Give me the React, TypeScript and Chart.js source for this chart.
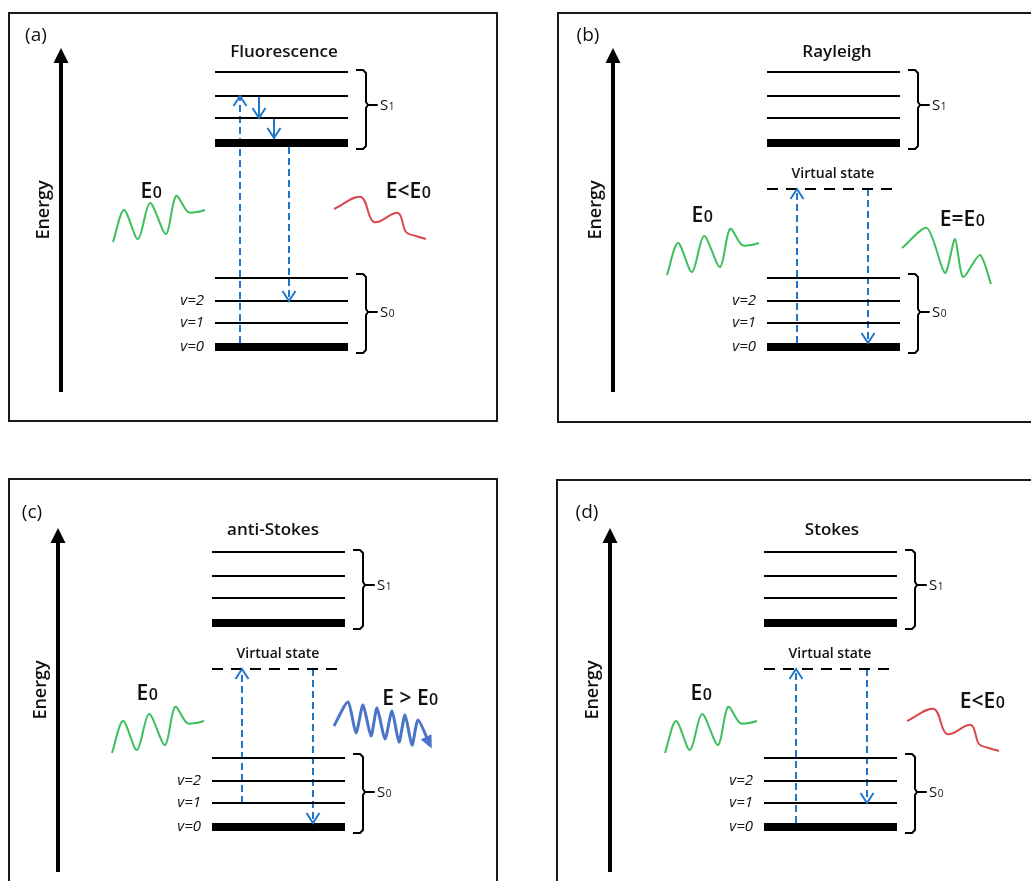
import React, { useEffect, useRef } from 'react';
import { Chart, registerables } from 'chart.js';

Chart.register(...registerables);

const FONT = "'Open Sans', 'Noto Sans', 'DejaVu Sans', sans-serif";

// ---------- data (energies in arbitrary units, 1 unit ≈ 1 px) ----------
const PANEL_LABELS = ['(a)', '(b)', '(c)', '(d)'];
const PANEL_TITLES = ['Fluorescence', 'Rayleigh', 'anti-Stokes', 'Stokes'];
const S0_LEVELS = [0, 24, 46, 69];
const S1_LEVELS = [204, 229, 251, 275];
const VIRTUAL_LEVEL = 158;
const V_LABELS = ['v=0', 'v=1', 'v=2'];
const SHOW_VIRTUAL = [false, true, true, true];
const LEVEL_LEN = 133;

// excitation (up) and emission (down) transitions, per panel
const EXC_X = [25, 30, 30, 32];
const EXC_FROM = [0, 0, 24, 0];
const EXC_TO = [251, 158, 158, 158];
const EMI_X = [74, 101, 101, 103];
const EMI_FROM = [204, 158, 158, 158];
const EMI_TO = [46, 0, 0, 24];
// vibrational relaxation in S1 (panel a)
const RELAX_X = [44, 59];
const RELAX_FROM = [251, 229];
const RELAX_TO = [229, 204];

// photon labels
const IN_LABEL = 'E0';
const OUT_LABELS = ['E<E0', 'E=E0', 'E > E0', 'E<E0'];

// hand-drawn incoming (green) wave shape
const GREEN_WAVE_DX = [0, 11, 25, 37, 53, 63, 75, 84, 92];
const GREEN_WAVE_DY = [0, 32, 3, 39, 8, 46, 30, 30, 32];
// red (lower energy) outgoing wave shape
const RED_WAVE_DX = [0, 27, 40, 64, 72, 82, 92];
const RED_WAVE_DY = [0, 12, -13, -4, -23, -27, -30];
// green outgoing wave (Rayleigh)
const GREEN_OUT_X = [135, 160, 178, 188, 196, 213, 224];
const GREEN_OUT_Y = [99, 119, 74, 108, 70, 92, 63];
// blue outgoing wave (anti-Stokes)
const BLUE_WAVE_X = [122, 136, 144, 151, 159, 165, 173, 180, 187, 193, 200, 206, 218];
const BLUE_WAVE_Y = [101, 125, 94, 122, 91, 119, 88, 116, 85, 112, 82, 107, 82];

// ---------- layout ----------
const CANVAS_RECTS = [
  [0, 0, 515, 440],
  [515, 0, 516, 440],
  [0, 440, 515, 441],
  [515, 440, 516, 441],
];
const ORIGIN_X = [215, 767, 212, 764];
const ORIGIN_Y = [347, 347, 827, 827];
const BOXES = [
  [-206, 282, 334, -74],
  [-209, 266, 334, -75],
  [-203, 285, 348, -63],
  [-207, 270, 347, -63],
];
const GREEN_ANCHOR_X = [-102, -100, -100, -99];
const GREEN_ANCHOR_Y = [105, 72, 74, 74];
const RED_ANCHOR = [[119, 138], null, null, [143, 106]];
const IN_POS = [[-64, 157], [-65, 133], [-65, 135], [-63, 135]];
const OUT_POS = [[193, 157], [195, 129], [198, 130], [218, 127]];
const TITLE_X = [69, 70, 61, 68];
const TITLE_Y = [295, 295, 297, 297];
const LABEL_POS = [[-179, 311], [-179, 311], [-180, 314], [-177, 314]];

const BLUE = '#1f77cc';
const GREEN = '#3cbf5c';
const RED = '#d9474c';
const BLUE_WAVE = '#4a74c9';
const BLACK = '#000000';

type Pt = { x: number; y: number };

function lineDs(data: Pt[], color: string, width: number, extra: any = {}) {
  return {
    data,
    borderColor: color,
    borderWidth: width,
    pointRadius: 0,
    fill: false,
    tension: 0,
    borderCapStyle: 'butt',
    borderJoinStyle: 'round',
    ...extra,
  };
}

function bracket(top: number, mid: number, bottom: number): Pt[] {
  return [
    { x: 141, y: top }, { x: 148, y: top }, { x: 151, y: top - 3 },
    { x: 151, y: mid + 3 }, { x: 153, y: mid }, { x: 162, y: mid },
    { x: 153, y: mid }, { x: 151, y: mid - 3 },
    { x: 151, y: bottom + 3 }, { x: 148, y: bottom }, { x: 141, y: bottom },
  ];
}

function buildDatasets(p: number) {
  const ds: any[] = [];
  // energy axis shaft
  ds.push(lineDs([{ x: -154, y: -45 }, { x: -154, y: 286 }], BLACK, 4));
  // levels
  S0_LEVELS.forEach((e, i) => ds.push(lineDs([{ x: 0, y: e }, { x: LEVEL_LEN, y: e }], BLACK, i === 0 ? 8 : 2)));
  S1_LEVELS.forEach((e, i) => ds.push(lineDs([{ x: 0, y: e }, { x: LEVEL_LEN, y: e }], BLACK, i === 0 ? 8 : 2)));
  if (SHOW_VIRTUAL[p]) {
    ds.push(lineDs([{ x: 0, y: VIRTUAL_LEVEL }, { x: LEVEL_LEN, y: VIRTUAL_LEVEL }], BLACK, 2, { borderDash: [11, 8] }));
  }
  // brackets
  ds.push(lineDs(bracket(277, 242, 198), BLACK, 2));
  ds.push(lineDs(bracket(73, 35, -6), BLACK, 2));
  // transitions
  ds.push(lineDs([{ x: EXC_X[p], y: EXC_FROM[p] + (EXC_FROM[p] === 0 ? 4 : 0) }, { x: EXC_X[p], y: EXC_TO[p] }], BLUE, 2, { borderDash: [7, 4] }));
  ds.push(lineDs([{ x: EMI_X[p], y: EMI_FROM[p] - (EMI_FROM[p] === S1_LEVELS[0] ? 4 : 0) }, { x: EMI_X[p], y: EMI_TO[p] === 0 ? 4 : EMI_TO[p] }], BLUE, 2, { borderDash: [7, 4] }));
  if (p === 0) {
    RELAX_X.forEach((x, i) => {
      const to = RELAX_TO[i] === S1_LEVELS[0] ? RELAX_TO[i] + 5 : RELAX_TO[i];
      ds.push(lineDs([{ x, y: RELAX_FROM[i] }, { x, y: to }], BLUE, 2));
    });
  }
  // incoming green wave
  ds.push(lineDs(GREEN_WAVE_DX.map((dx, i) => ({ x: GREEN_ANCHOR_X[p] + dx, y: GREEN_ANCHOR_Y[p] + GREEN_WAVE_DY[i] })), GREEN, 2, { tension: 0.3 }));
  // outgoing waves
  const ra = RED_ANCHOR[p];
  if (ra) {
    ds.push(lineDs(RED_WAVE_DX.map((dx, i) => ({ x: ra[0] + dx, y: ra[1] + RED_WAVE_DY[i] })), RED, 2, { tension: 0.35 }));
  }
  if (p === 1) {
    ds.push(lineDs(GREEN_OUT_X.map((x, i) => ({ x, y: GREEN_OUT_Y[i] })), GREEN, 2, { tension: 0.25 }));
  }
  if (p === 2) {
    ds.push(lineDs(BLUE_WAVE_X.map((x, i) => ({ x, y: BLUE_WAVE_Y[i] })), BLUE_WAVE, 3, { tension: 0.22 }));
  }
  return ds;
}

function drawSubLabel(ctx: CanvasRenderingContext2D, text: string, cx: number, cy: number, size: number, subSize: number, weight: string, align: 'center' | 'left') {
  const main = text.slice(0, -1);
  const sub = text.slice(-1);
  const mf = `${weight} ${size}px ${FONT}`;
  const sf = `${weight} ${subSize}px ${FONT}`;
  ctx.font = mf;
  const w1 = ctx.measureText(main).width;
  ctx.font = sf;
  const w2 = ctx.measureText(sub).width;
  const x0 = align === 'center' ? cx - (w1 + w2) / 2 : cx;
  const base = cy + size * 0.36;
  ctx.textAlign = 'left';
  ctx.textBaseline = 'alphabetic';
  ctx.font = mf;
  ctx.fillText(main, x0, base);
  ctx.font = sf;
  ctx.fillText(sub, x0 + w1 + 0.5, base);
}

function makePlugin(p: number) {
  return {
    id: 'decor' + p,
    beforeDatasetsDraw(chart: any) {
      const ctx = chart.ctx as CanvasRenderingContext2D;
      const X = (v: number) => chart.scales.x.getPixelForValue(v);
      const Y = (v: number) => chart.scales.y.getPixelForValue(v);
      const [l, r, t, b] = BOXES[p];
      ctx.save();
      ctx.strokeStyle = '#1a1a1a';
      ctx.lineWidth = 2;
      ctx.strokeRect(X(l), Y(t), X(r) - X(l), Y(b) - Y(t));
      ctx.restore();
    },
    afterDatasetsDraw(chart: any) {
      const ctx = chart.ctx as CanvasRenderingContext2D;
      const X = (v: number) => chart.scales.x.getPixelForValue(v);
      const Y = (v: number) => chart.scales.y.getPixelForValue(v);
      ctx.save();
      // energy arrow head
      ctx.fillStyle = BLACK;
      ctx.beginPath();
      ctx.moveTo(X(-154), Y(299));
      ctx.lineTo(X(-154) - 7.5, Y(284));
      ctx.lineTo(X(-154) + 7.5, Y(284));
      ctx.closePath();
      ctx.fill();

      // chevrons
      const chevron = (x: number, tipE: number, dir: number) => {
        const px = X(x);
        const py = Y(tipE);
        ctx.strokeStyle = BLUE;
        ctx.lineWidth = 2;
        ctx.lineJoin = 'miter';
        ctx.beginPath();
        ctx.moveTo(px - 6.5, py + dir * 10);
        ctx.lineTo(px, py);
        ctx.lineTo(px + 6.5, py + dir * 10);
        ctx.stroke();
      };
      chevron(EXC_X[p], EXC_TO[p], 1);
      chevron(EMI_X[p], EMI_TO[p] === 0 ? 4 : EMI_TO[p], -1);
      if (p === 0) {
        RELAX_X.forEach((x, i) => chevron(x, RELAX_TO[i] === S1_LEVELS[0] ? RELAX_TO[i] + 5 : RELAX_TO[i], -1));
      }

      // blue wave arrow head
      if (p === 2) {
        const n = BLUE_WAVE_X.length;
        const ex = X(BLUE_WAVE_X[n - 1]);
        const ey = Y(BLUE_WAVE_Y[n - 1]);
        const sx = X(BLUE_WAVE_X[n - 2]);
        const sy = Y(BLUE_WAVE_Y[n - 2]);
        const ang = Math.atan2(ey - sy, ex - sx);
        const tx = ex + Math.cos(ang) * 4;
        const ty = ey + Math.sin(ang) * 4;
        ctx.fillStyle = BLUE_WAVE;
        ctx.beginPath();
        ctx.moveTo(tx, ty);
        ctx.lineTo(tx - Math.cos(ang) * 13 - Math.sin(ang) * 6, ty - Math.sin(ang) * 13 + Math.cos(ang) * 6);
        ctx.lineTo(tx - Math.cos(ang) * 13 + Math.sin(ang) * 6, ty - Math.sin(ang) * 13 - Math.cos(ang) * 6);
        ctx.closePath();
        ctx.fill();
      }

      ctx.fillStyle = '#111';
      // panel label
      ctx.font = `19px ${FONT}`;
      ctx.textAlign = 'center';
      ctx.textBaseline = 'middle';
      ctx.fillText(PANEL_LABELS[p], X(LABEL_POS[p][0]), Y(LABEL_POS[p][1]));
      // title
      ctx.font = `600 17px ${FONT}`;
      ctx.fillText(PANEL_TITLES[p], X(TITLE_X[p]), Y(TITLE_Y[p]));
      // Energy
      ctx.save();
      ctx.translate(X(-171), Y(137));
      ctx.rotate(-Math.PI / 2);
      ctx.font = `600 18px ${FONT}`;
      ctx.fillText('Energy', 0, 0);
      ctx.restore();
      // virtual state
      if (SHOW_VIRTUAL[p]) {
        ctx.font = `600 14px ${FONT}`;
        ctx.textAlign = 'center';
        ctx.textBaseline = 'middle';
        ctx.fillText('Virtual state', X(66), Y(173));
      }
      // v labels
      ctx.font = `italic 15px ${FONT}`;
      ctx.textAlign = 'right';
      ctx.textBaseline = 'middle';
      V_LABELS.forEach((t, i) => ctx.fillText(t, X(-11), Y(S0_LEVELS[i])));
      // S labels
      drawSubLabel(ctx, 'S1', X(165), Y(242), 15, 10, 'normal', 'left');
      drawSubLabel(ctx, 'S0', X(165), Y(35), 15, 10, 'normal', 'left');
      // photon labels
      drawSubLabel(ctx, IN_LABEL, X(IN_POS[p][0]), Y(IN_POS[p][1]), 21, 16, '600', 'center');
      drawSubLabel(ctx, OUT_LABELS[p], X(OUT_POS[p][0]), Y(OUT_POS[p][1]), 21, 16, '600', 'center');
      ctx.restore();
    },
  };
}

function buildChart(canvas: HTMLCanvasElement, p: number) {
  const [cl, ct, cw, ch] = CANVAS_RECTS[p];
  const ox = ORIGIN_X[p];
  const oy = ORIGIN_Y[p];
  return new Chart(canvas, {
    type: 'line',
    data: { datasets: buildDatasets(p) },
    options: {
      animation: false,
      responsive: false,
      events: [],
      layout: { padding: 0 },
      plugins: { legend: { display: false }, tooltip: { enabled: false } },
      scales: {
        x: { type: 'linear', display: false, min: cl - ox, max: cl + cw - ox },
        y: { type: 'linear', display: false, min: oy - (ct + ch), max: oy - ct },
      },
    } as any,
    plugins: [makePlugin(p)],
  } as any);
}

export default function App() {
  const r0 = useRef<HTMLCanvasElement>(null);
  const r1 = useRef<HTMLCanvasElement>(null);
  const r2 = useRef<HTMLCanvasElement>(null);
  const r3 = useRef<HTMLCanvasElement>(null);
  const refs = [r0, r1, r2, r3];
  useEffect(() => {
    document.body.style.margin = '0';
    const charts = refs.map((r, i) => buildChart(r.current as HTMLCanvasElement, i));
    return () => charts.forEach((c) => c.destroy());
  }, []);
  return (
    <div style={{ position: 'absolute', left: 0, top: 0, width: 1031, height: 881, background: '#fff', overflow: 'hidden' }}>
      {CANVAS_RECTS.map((rc, i) => (
        <canvas
          key={i}
          ref={refs[i]}
          width={rc[2]}
          height={rc[3]}
          style={{ position: 'absolute', left: rc[0], top: rc[1], width: rc[2], height: rc[3] }}
        />
      ))}
    </div>
  );
}
